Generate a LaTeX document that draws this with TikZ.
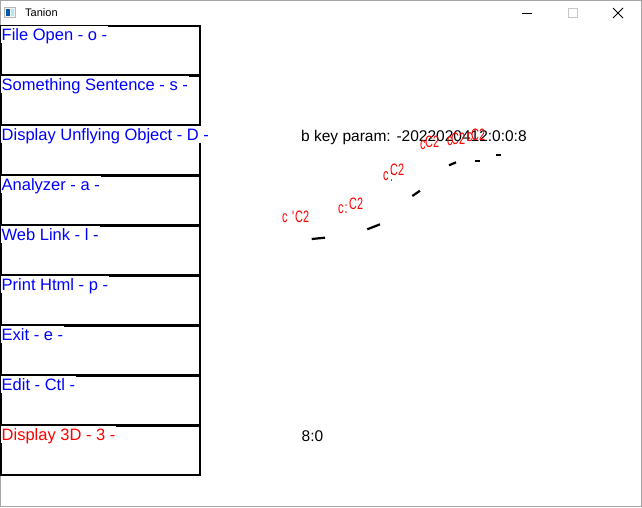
\documentclass[tikz,border=0pt]{standalone}
\usepackage{fontspec}
\setmainfont{Liberation Sans}
\newfontfamily\uifont{Liberation Sans}
\newfontfamily\redfont[FakeStretch=0.66]{Liberation Sans}
\begin{document}
\begin{tikzpicture}[x=1pt,y=-1pt,
  menubox/.style={draw=black,line width=2pt},
  menulabel/.style={anchor=north west,fill=white,inner xsep=1pt,inner ysep=0pt,text height=14.5pt,text depth=2.5pt,font=\uifont\fontsize{16.5}{18}\selectfont},
  infotext/.style={anchor=base west,inner sep=0pt,font=\uifont\fontsize{15.5}{17}\selectfont,text=black},
  redtag/.style={anchor=base west,inner sep=0pt,text=red,font=\redfont\fontsize{16.5}{18}\selectfont},
  tickmark/.style={line width=2.2pt,black}]
\useasboundingbox (0,0) rectangle (642,507);
\fill[white] (0,0) rectangle (642,507);
\draw[gray!70,line width=1pt] (0.5,0.5) rectangle (641.5,506.5);
% title bar
\fill[gray!55] (4,7) rectangle (16,18);
\fill[gray!10] (5,8) rectangle (15,17);
\fill[teal!70!blue] (6,9) rectangle (10,16);
\fill[cyan!30!white] (11,9) rectangle (14,16);
\node[anchor=base west,inner sep=0pt,font=\uifont\fontsize{11}{13}\selectfont] (title) at (25,16.7) {Tanion};
\draw[black,line width=0.8pt] (522,13.5) -- (532,13.5);
\draw[gray!45,line width=0.8pt] (568,8.5) rectangle (577,17.5);
\draw[black,line width=0.8pt] (613,8) -- (623,18) (613,18) -- (623,8);
% menu boxes
\foreach \i in {0,...,8}{
  \draw[menubox] (1,{26+50*\i}) rectangle (199.5,{75+50*\i});
}
\foreach \t/\c [count=\i from 0] in {File Open - o -/blue,Something Sentence - s -/blue,Display Unflying Object - D -/blue,Analyzer - a -/blue,Web Link - l -/blue,Print Html - p -/blue,Exit - e -/blue,Edit - Ctl -/blue,Display 3D - 3 -/red}{
  \node[menulabel,text=\c] (lab\i) at (0.5,{25.5+50*\i}) {\t};
}
% info texts
\node[infotext] (param) at (301,141) {b key param: -2022020412:0:0:8};
\node[infotext] (pos) at (301.5,441) {8:0};
% tick marks
\draw[tickmark] (311.7,239) -- (325,237.7);
\draw[tickmark] (367.3,229.3) -- (380,224.3);
\draw[tickmark] (412.3,196) -- (420,190.7);
\draw[tickmark] (449,165.3) -- (456,162.3);
\draw[tickmark] (475,161) -- (480,161);
\draw[tickmark] (496,155.3) -- (500.7,155.3);
% red tags
\node[redtag] (ca) at (282,222.5) {c};
\node[redtag] (ma) at (292,222.5) {'};
\node[redtag] (ka) at (295,222.5) {C2};
\node[redtag] (cb) at (338,213) {c};
\node[redtag] (mb) at (344.5,213) {:};
\node[redtag] (kb) at (349,209) {C2};
\node[redtag] (cc) at (383,180.5) {c};
\node[redtag] (mc) at (390,181) {:};
\node[redtag] (kc) at (390,175.5) {C2};
\node[redtag] (cd) at (420,149.5) {c};
\node[redtag] (kd) at (425,147) {C2};
\node[redtag] (ce) at (447,145.5) {c};
\node[redtag] (ke) at (451,144.5) {C2};
\node[redtag] (cf) at (467,141.5) {c};
\node[redtag] (kf) at (471,140) {C2};
\end{tikzpicture}
\end{document}
